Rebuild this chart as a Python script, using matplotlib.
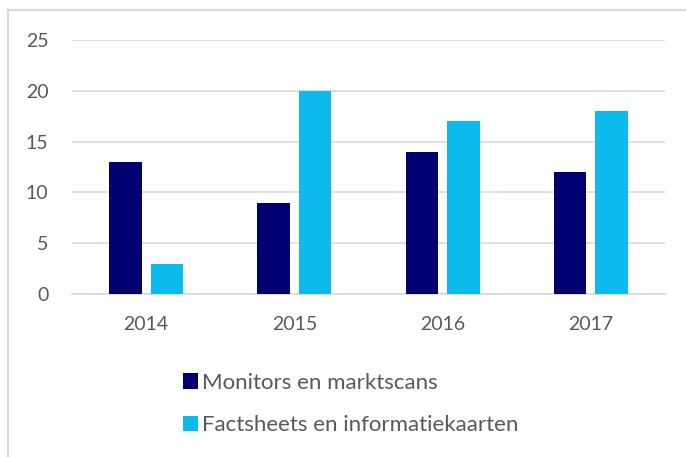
import matplotlib
matplotlib.use("Agg")
import matplotlib.pyplot as plt
import numpy as np
from matplotlib.lines import Line2D
from matplotlib.patches import Patch

years = ["2014", "2015", "2016", "2017"]
monitors = [13, 9, 14, 12]
factsheets = [3, 20, 17, 18]
series_names = ["Monitors en marktscans", "Factsheets en informatiekaarten"]
yticks = [0, 5, 10, 15, 20, 25]

dark = "#000070"
light = "#0DBAED"
txt = "#595959"
grid = "#D9D9D9"

plt.rcParams['font.family'] = ['Lato', 'DejaVu Sans']

fig = plt.figure(figsize=(6.86, 4.57), dpi=100)
ax = fig.add_axes([72/686, 1-294/457, (665-72)/686, (294-40)/457])

x = np.arange(len(years))
w = 0.22
off = 0.14
ax.bar(x - off, monitors, width=w, color=dark, zorder=3)
ax.bar(x + off, factsheets, width=w, color=light, zorder=3)

ax.set_xlim(-0.5, 3.5)
ax.set_ylim(0, 25)
ax.set_yticks(yticks)
ax.set_xticks(x)
ax.set_xticklabels(years)
ax.yaxis.grid(True, color=grid, linewidth=1.2, zorder=0)
ax.set_axisbelow(True)
for s in ["top", "right", "left"]:
    ax.spines[s].set_visible(False)
ax.spines["bottom"].set_color(grid)
ax.spines["bottom"].set_linewidth(1.2)
ax.tick_params(axis="both", length=0, labelsize=14, colors=txt)
ax.tick_params(axis="x", pad=16)
ax.tick_params(axis="y", pad=17)

handles = [Patch(facecolor=dark), Patch(facecolor=light)]
fig.legend(handles, series_names, loc="upper left",
           bbox_to_anchor=(174/686, 1-364/457), frameon=False,
           fontsize=16, labelcolor=txt, handlelength=0.68, handleheight=0.68,
           handletextpad=0.2, labelspacing=1.0, borderaxespad=0)

# outer frame (partially visible)
fig.add_artist(Line2D([8/686, 8/686], [0, 1-10/457], transform=fig.transFigure,
                      color=grid, linewidth=1.5))
fig.add_artist(Line2D([8/686, 1], [1-10/457, 1-10/457], transform=fig.transFigure,
                      color=grid, linewidth=1.5))

fig.savefig("out.png", dpi=100)
